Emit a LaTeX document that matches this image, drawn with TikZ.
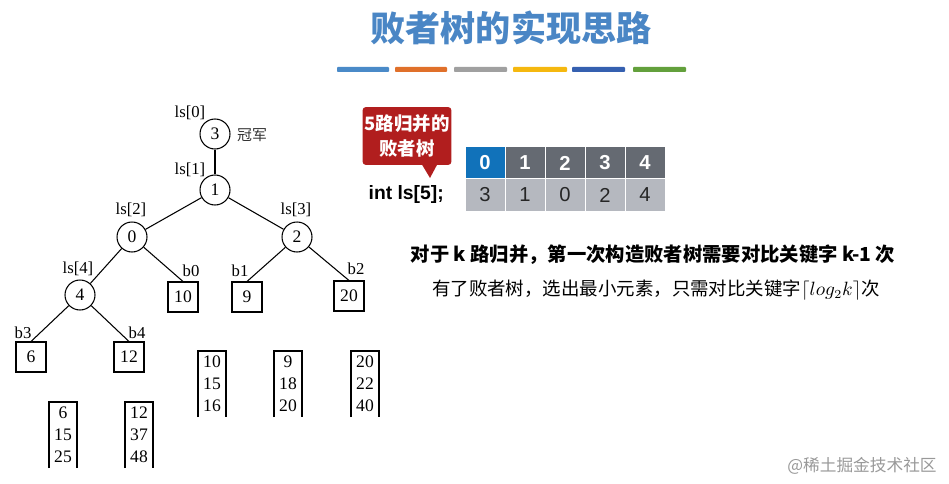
\documentclass[tikz,border=0pt]{standalone}
\usepackage{fontspec}
\setmainfont{Liberation Serif}
\newfontfamily\sans{Liberation Sans}
\newfontfamily\cjk{Noto Sans CJK SC}
\definecolor{titleblue}{HTML}{4A86C5}
\definecolor{barA}{HTML}{4A8AC8}
\definecolor{barB}{HTML}{E0702A}
\definecolor{barC}{HTML}{A0A0A0}
\definecolor{barD}{HTML}{F5B80F}
\definecolor{barE}{HTML}{3560B0}
\definecolor{barF}{HTML}{63A03C}
\definecolor{calloutred}{HTML}{B11E1E}
\definecolor{headblue}{HTML}{1172BA}
\definecolor{headgray}{HTML}{656A72}
\definecolor{cellgray}{HTML}{B5B8BF}
\begin{document}
\begin{tikzpicture}[x=0.02cm, y=-0.02cm,
    knot/.style={circle, draw, line width=0.6pt, minimum size=0.6cm, inner sep=0pt, font=\fontsize{10}{12}\selectfont},
    leaf/.style={rectangle, draw, line width=0.6pt, minimum size=0.6cm, inner sep=0pt, font=\fontsize{10}{12}\selectfont},
    tag/.style={inner sep=0pt, font=\fontsize{9.5}{11}\selectfont},
    cell/.style={rectangle, draw=white, line width=0.5pt, minimum width=0.8cm, minimum height=0.65cm, inner sep=0pt, font=\sans\fontsize{11.5}{13}\selectfont}]
    \useasboundingbox (0,0) rectangle (949,483);
    \node[font=\cjk\bfseries\fontsize{20}{24}\selectfont, text=titleblue] (title) at (511,28) {败者树的实现思路};
    \foreach \a/\b/\c in {337/389/barA, 395/447/barB, 454/507/barC, 513/567/barD, 572/625/barE, 633/686/barF}
        \fill[\c, rounded corners=0.5pt] (\a,67) rectangle (\b,72);
    \node[knot] (n3) at (215,134) {3};
    \node[knot] (n1) at (215,190) {1};
    \node[knot] (n0) at (132,237) {0};
    \node[knot] (n2) at (297,237) {2};
    \node[knot] (n4) at (80,295) {4};
    \node[leaf] (b0) at (183,297) {10};
    \node[leaf] (b1) at (247,297) {9};
    \node[leaf] (b2) at (349,296) {20};
    \node[leaf] (b3) at (31,357) {6};
    \node[leaf] (b4) at (129,357) {12};
    \node[tag] (l0) at (190,113) {ls[0]};
    \node[tag] (l1) at (190,170) {ls[1]};
    \node[tag] (l2) at (131,210) {ls[2]};
    \node[tag] (l3) at (296,210) {ls[3]};
    \node[tag] (l4) at (78,269) {ls[4]};
    \node[tag] (t0) at (191,271) {b0};
    \node[tag] (t1) at (240,271) {b1};
    \node[tag] (t2) at (356,269) {b2};
    \node[tag] (t3) at (23,333) {b3};
    \node[tag] (t4) at (137,333) {b4};
    \node[font=\cjk\fontsize{8.5}{10}\selectfont, text=black!80] (champ) at (252,135) {冠军};
    \draw[line width=0.6pt] (n3) -- (n1);
    \draw[line width=0.6pt] (n1) -- (n0);
    \draw[line width=0.6pt] (n1) -- (n2);
    \draw[line width=0.6pt] (n0) -- (n4);
    \draw[line width=0.6pt] (n0) -- (b0.north);
    \draw[line width=0.6pt] (n2) -- (b1.north);
    \draw[line width=0.6pt] (n2) -- (b2.north);
    \draw[line width=0.6pt] (n4) -- (b3.north);
    \draw[line width=0.6pt] (n4) -- (b4.north);
    \foreach \k/\x/\y/\p/\q/\r in {a/63/402/6/15/25, b/139/402/12/37/48, c/212/351/10/15/16, d/288/351/9/18/20, e/365/351/20/22/40} {
        \draw[line width=0.6pt] (\x-14,\y+66) -- (\x-14,\y) -- (\x+14,\y) -- (\x+14,\y+66);
        \node[tag, font=\fontsize{10}{12}\selectfont] (\k1) at (\x,\y+11) {\p};
        \node[tag, font=\fontsize{10}{12}\selectfont] (\k2) at (\x,\y+33) {\q};
        \node[tag, font=\fontsize{10}{12}\selectfont] (\k3) at (\x,\y+55) {\r};
    }
    \node[fill=calloutred, rounded corners=2pt, minimum width=1.78cm, minimum height=1.16cm, inner sep=1pt, align=center, text=white, font=\cjk\bfseries\fontsize{10.5}{14}\selectfont] (callout) at (407,136) {5路归并的\\败者树};
    \fill[calloutred] (421,163) -- (430,178) -- (438,163) -- cycle;
    \foreach \i/\v/\c in {0/3/headblue, 1/1/headgray, 2/0/headgray, 3/2/headgray, 4/4/headgray} {
        \node[cell, fill=\c, text=white, font=\sans\bfseries\fontsize{11.5}{13}\selectfont] (h\i) at (485+40*\i,163) {\i};
        \node[cell, fill=cellgray, text=black!85] (v\i) at (485+40*\i,195) {\v};
    }
    \node[anchor=east, font=\sans\bfseries\fontsize{11}{13}\selectfont] (decl) at (450,195) {int ls[5];};
    \node[font=\cjk\bfseries\fontsize{11}{13}\selectfont] (line1) at (653,255) {对于 k 路归并，第一次构造败者树需要对比关键字 k-1 次};
    \node[font=\cjk\fontsize{10.5}{13}\selectfont] (line2) at (656,290) {有了败者树，选出最小元素，只需对比关键字$\lceil log_2k\rceil$次};
    \node[font=\cjk\fontsize{9.5}{11}\selectfont, text=black!40] (mark) at (862,466) {@稀土掘金技术社区};
\end{tikzpicture}
\end{document}
